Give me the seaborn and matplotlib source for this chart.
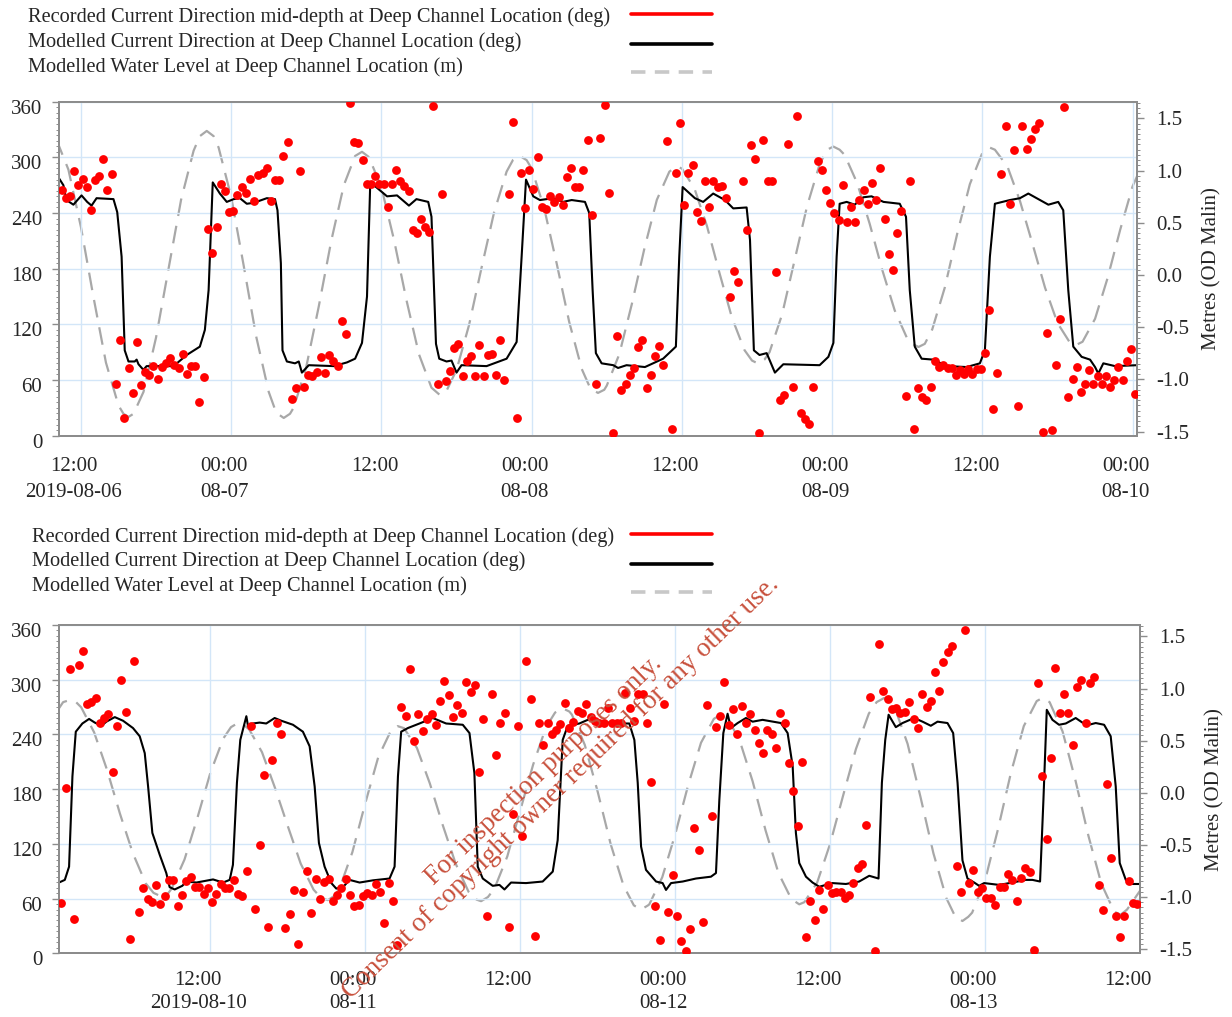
import numpy as np
import pandas as pd
import matplotlib
matplotlib.use("Agg")
import matplotlib.pyplot as plt
import matplotlib.dates as mdates
import matplotlib.transforms as mtransforms
from matplotlib.lines import Line2D
from matplotlib.ticker import MultipleLocator, FormatStrFormatter
import seaborn as sns

# ============================ DATA ============================
legend_labels = [
    "Recorded Current Direction mid-depth at Deep Channel Location (deg)",
    "Modelled Current Direction at Deep Channel Location (deg)",
    "Modelled Water Level at Deep Channel Location (m)",
]
right_label = "Metres (OD Malin)"
watermark = "For inspection purposes only.\nConsent of copyright owner required for any other use."

# ---------- Panel 1 (hours after 2019-08-06 00:00) ----------
p1_start = "2019-08-06 00:00"
p1_rec_h = [10.45, 10.77, 11.12, 11.44, 11.79, 12.13, 12.45, 12.77, 13.12, 13.47, 13.79, 14.11,
            14.45, 14.77, 15.12, 15.47, 15.81, 16.13, 16.45, 16.77, 17.15, 17.47, 17.79, 18.13,
            18.48, 18.8, 19.15, 19.47, 19.81, 20.13, 20.48, 20.8, 21.15, 21.47, 21.81, 22.16,
            22.48, 22.83, 23.15, 23.49, 23.81, 24.13, 24.48, 24.83, 25.17, 25.49, 25.84, 26.16,
            26.51, 26.83, 27.17, 27.49, 27.84, 28.16, 28.51, 28.83, 29.17, 29.49, 29.84, 30.16,
            30.48, 30.83, 31.17, 31.52, 31.84, 32.16, 32.51, 32.83, 33.17, 33.49, 33.84, 34.16,
            34.51, 34.85, 35.17, 35.52, 35.84, 36.19, 36.51, 36.85, 37.2, 37.52, 37.84, 38.19,
            38.5, 38.83, 39.13, 39.48, 39.82, 40.14, 40.49, 40.81, 41.15, 41.47, 41.82, 42.14,
            42.49, 42.8, 43.12, 43.47, 43.82, 44.19, 44.48, 44.8, 45.15, 45.47, 45.81, 46.16,
            46.48, 46.8, 47.14, 47.46, 47.81, 48.13, 48.48, 48.8, 49.11, 49.46, 49.81, 50.15,
            50.47, 50.82, 51.14, 51.46, 51.8, 52.12, 52.47, 52.82, 53.16, 53.48, 53.83, 54.17,
            54.49, 54.84, 55.16, 55.5, 55.85, 56.17, 56.49, 56.84, 57.18, 57.5, 57.85, 58.17,
            58.51, 58.83, 59.18, 59.52, 59.84, 60.19, 60.51, 60.86, 61.18, 61.52, 61.84, 62.19,
            62.51, 62.85, 63.17, 63.52, 63.84, 64.18, 64.5, 64.85, 65.17, 65.52, 65.83, 66.18,
            66.5, 66.85, 67.17, 67.51, 67.83, 68.18, 68.5, 68.84, 69.16, 69.51, 69.83, 70.17,
            70.49, 70.84, 71.16, 71.51, 71.83, 72.17, 72.52, 72.84, 73.18, 73.5, 73.85, 74.17,
            74.52, 74.86, 75.18, 75.53, 75.85, 76.19, 76.51, 76.86, 77.2, 77.52, 77.87, 78.19,
            78.54, 78.88, 79.2, 79.52, 79.87, 80.21, 80.53, 80.88, 81.22, 81.54, 81.86, 82.21,
            82.53, 82.87, 83.19, 83.54, 83.86, 84.21, 84.53, 84.87, 85.19, 85.51, 85.86, 86.2,
            86.52, 86.87, 87.19, 87.53, 87.85, 88.2, 88.52, 88.87, 89.19, 89.53, 89.88, 90.2,
            90.54, 90.86, 91.21, 91.53, 91.87, 92.19, 92.54, 92.86, 93.2, 93.52, 93.87, 94.19,
            94.51, 94.86, 95.2, 95.52, 95.87, 96.19]
p1_rec_deg = [265, 256, 258, 285, 270, 277, 268, 243, 276, 280, 298, 265,
              282, 56, 103, 19, 73, 46, 101, 55, 69, 65, 75, 61,
              74, 78, 84, 76, 73, 88, 67, 75, 75, 36, 63, 223,
              197, 225, 271, 264, 241, 242, 259, 268, 262, 277, 253, 281,
              283, 288, 253, 276, 276, 301, 317, 40, 51, 285, 53, 65,
              64, 69, 85, 68, 87, 81, 75, 124, 110, 359, 317, 315,
              297, 271, 271, 280, 271, 271, 247, 271, 286, 274, 269, 264,
              222, 218, 234, 225, 220, 355, 56, 261, 59, 70, 94, 99,
              64, 81, 86, 64, 98, 64, 87, 88, 65, 103, 60, 260,
              338, 19, 283, 245, 286, 266, 300, 246, 244, 258, 252, 257,
              249, 279, 289, 268, 268, 286, 319, 238, 56, 321, 356, 262,
              3, 107, 49, 56, 65, 73, 96, 103, 51, 65, 86, 97,
              76, 318, 7, 283, 337, 249, 283, 292, 241, 231, 274, 246,
              275, 268, 269, 256, 149, 177, 166, 275, 222, 313, 298, 3,
              319, 275, 274, 176, 38, 44, 314, 53, 345, 24, 18, 13,
              53, 296, 286, 265, 251, 240, 232, 270, 230, 247, 230, 254,
              265, 250, 272, 254, 288, 234, 196, 179, 219, 242, 43, 275,
              7, 51, 42, 39, 53, 80, 74, 76, 73, 73, 65, 71,
              67, 72, 67, 72, 72, 89, 136, 29, 68, 282, 334, 250,
              308, 32, 334, 309, 320, 331, 337, 4, 111, 6, 76, 126,
              354, 42, 61, 74, 47, 56, 71, 56, 64, 56, 64, 53,
              60, 74, 60, 81, 93, 45]
p1_mod_h = [10.27, 10.6, 10.85, 11.4, 12.05, 12.5, 12.85, 13.25, 14.6, 14.9, 15.25, 15.5,
            15.8, 16.3, 16.45, 16.6, 16.99, 17.25, 19.4, 20.45, 21.5, 21.9, 22.2, 22.53,
            23.1, 23.65, 24.2, 24.7, 25.25, 25.8, 26.85, 27.5, 27.7, 27.97, 28.1, 28.45,
            29.1, 29.4, 29.65, 30.2, 32.2, 33.25, 33.9, 34.45, 34.85, 35.1, 35.4, 36.45,
            37.25, 38.2, 38.8, 39.74, 40.0, 40.14, 40.36, 40.62, 41.2, 41.6, 42.0, 42.4,
            44.4, 46.0, 46.8, 47.2, 47.55, 48.13, 48.66, 49.73, 50.5, 51.2, 52.26, 52.6,
            52.87, 53.13, 53.59, 54.52, 54.9, 55.58, 57.05, 58.5, 59.52, 59.79, 60.06, 61.04,
            61.7, 62.5, 63.44, 64.1, 65.17, 65.44, 65.75, 66.2, 66.77, 67.43, 68.1, 71.0,
            71.7, 72.1, 72.36, 72.6, 73.16, 73.8, 74.5, 75.15, 76.1, 77.4, 77.9, 78.2,
            78.6, 79.15, 80.08, 81.15, 82.74, 83.8, 84.2, 84.6, 85.0, 86.2, 87.0, 87.67,
            88.6, 89.27, 90.06, 90.46, 90.86, 91.26, 91.93, 92.6, 93.0, 93.26, 93.66, 94.6,
            96.35]
p1_mod_deg = [277, 270, 254, 249, 259, 252, 248, 256, 255, 241, 193, 92,
              80, 80, 82, 77, 71, 75, 75, 87, 96, 114, 157, 273,
              261, 252, 255, 256, 250, 251, 256, 255, 243, 186, 92, 80,
              78, 80, 68, 76, 75, 79, 83, 100, 150, 268, 270, 258,
              259, 248, 255, 252, 236, 182, 99, 83, 80, 81, 68, 76,
              75, 83, 101, 193, 276, 258, 254, 256, 252, 254, 252, 240,
              157, 89, 78, 76, 73, 76, 74, 83, 96, 193, 268, 256,
              252, 261, 254, 245, 246, 211, 92, 87, 89, 68, 77, 76,
              85, 100, 193, 250, 252, 249, 257, 258, 252, 250, 236, 157,
              96, 83, 82, 75, 74, 78, 92, 193, 250, 254, 256, 261,
              254, 249, 252, 243, 157, 96, 85, 82, 74, 67, 78, 75,
              76]
p1_wl_h = [10, 11, 12, 13, 14, 15, 15.4, 15.8, 16.2, 17, 18, 19,
           20, 21, 21.5, 22.05, 22.6, 23, 24, 25, 26, 27, 27.6, 28.2,
           28.7, 29, 30, 31, 32, 33, 33.9, 34.45, 35, 36, 37, 38,
           39, 40, 40.67, 41.2, 42, 43, 44, 45, 46, 46.5, 47.06, 47.6,
           48, 49, 50, 51, 52, 52.7, 53.3, 53.8, 54, 55, 56, 57,
           58, 59, 59.58, 60, 61, 62, 63, 64, 65, 65.6, 66.1, 66.6,
           67, 68, 69, 70, 71, 71.6, 72.1, 72.6, 73, 74, 75, 76,
           77, 78, 78.4, 78.9, 79.4, 80, 81, 82, 83, 84, 84.6, 85,
           86, 87, 88, 89, 90, 91, 91.5, 92, 93, 94, 95, 96,
           97]
p1_wl_m = [1.31, 1.01, 0.46, -0.21, -0.84, -1.25, -1.33, -1.36, -1.33, -1.12, -0.60, 0.06,
           0.72, 1.19, 1.33, 1.38, 1.33, 1.22, 0.75, 0.09, -0.59, -1.12, -1.32, -1.37,
           -1.33, -1.27, -0.88, -0.30, 0.33, 0.86, 1.14, 1.18, 1.13, 0.84, 0.34, -0.24,
           -0.76, -1.08, -1.15, -1.11, -0.91, -0.48, 0.07, 0.60, 0.99, 1.10, 1.14, 1.10,
           1.02, 0.64, 0.11, -0.45, -0.90, -1.09, -1.13, -1.10, -1.06, -0.76, -0.28, 0.25,
           0.72, 0.99, 1.04, 1.02, 0.83, 0.47, 0.02, -0.41, -0.72, -0.82, -0.85, -0.81,
           -0.74, -0.38, 0.14, 0.66, 1.06, 1.20, 1.23, 1.20, 1.15, 0.88, 0.49, 0.05,
           -0.34, -0.61, -0.66, -0.69, -0.66, -0.52, -0.12, 0.40, 0.87, 1.17, 1.22, 1.20,
           1.04, 0.71, 0.30, -0.12, -0.46, -0.65, -0.67, -0.64, -0.42, -0.03, 0.43, 0.85,
           1.12]
p1_xlim_h = (10.25, 96.35)
p1_wl_ylim = (-1.54, 1.66)
p1_tick_h = [12, 24, 36, 48, 60, 72, 84, 96]
p1_tick_labels = ["12:00\n2019-08-06", "00:00\n08-07", "12:00", "00:00\n08-08",
                  "12:00", "00:00\n08-09", "12:00", "00:00\n08-10"]

# ---------- Panel 2 (hours after 2019-08-10 00:00) ----------
p2_start = "2019-08-10 00:00"
p2_rec_h = [0.42, 0.8, 1.11, 1.47, 1.81, 2.14, 2.45, 2.79, 3.12, 3.46, 3.77, 4.11,
            4.44, 4.78, 5.11, 5.45, 5.78, 6.12, 6.48, 6.81, 7.15, 7.49, 7.82, 8.13,
            8.47, 8.8, 9.14, 9.47, 9.81, 10.14, 10.48, 10.81, 11.15, 11.48, 11.82, 12.13,
            12.46, 12.8, 13.14, 13.47, 13.81, 14.14, 14.48, 14.81, 15.15, 15.48, 15.82, 16.15,
            16.49, 16.8, 17.13, 17.47, 17.8, 18.14, 18.47, 18.81, 19.15, 19.48, 19.82, 20.15,
            20.49, 20.82, 21.16, 21.49, 21.8, 22.14, 22.47, 22.81, 23.15, 23.48, 23.82, 24.15,
            24.49, 24.82, 25.13, 25.47, 25.8, 26.14, 26.45, 26.78, 27.12, 27.45, 27.76, 28.1,
            28.46, 28.79, 29.13, 29.46, 29.8, 30.13, 30.47, 30.8, 31.14, 31.47, 31.81, 32.15,
            32.48, 32.79, 33.13, 33.46, 33.8, 34.13, 34.47, 34.8, 35.14, 35.47, 35.81, 36.14,
            36.48, 36.82, 37.12, 37.46, 37.8, 38.13, 38.47, 38.78, 39.11, 39.45, 39.78, 40.12,
            40.45, 40.79, 41.12, 41.46, 41.79, 42.13, 42.47, 42.8, 43.14, 43.47, 43.81, 44.14,
            44.48, 44.81, 45.15, 45.48, 45.79, 46.13, 46.46, 46.8, 47.13, 47.47, 47.81, 48.14,
            48.48, 48.81, 49.15, 49.48, 49.82, 50.15, 50.49, 50.82, 51.16, 51.47, 51.8, 52.14,
            52.48, 52.81, 53.15, 53.48, 53.82, 54.15, 54.49, 54.82, 55.13, 55.47, 55.8, 56.14,
            56.48, 56.81, 57.15, 57.48, 57.79, 58.13, 58.46, 58.8, 59.11, 59.42, 59.8, 60.14,
            60.47, 60.81, 61.14, 61.45, 61.79, 62.13, 62.46, 62.77, 63.11, 63.44, 63.78, 64.11,
            64.45, 64.78, 65.12, 65.45, 65.79, 66.12, 66.46, 66.8, 67.13, 67.47, 67.8, 68.14,
            68.45, 68.78, 69.12, 69.45, 69.79, 70.12, 70.43, 70.77, 71.1, 71.44, 71.77, 72.11,
            72.45, 72.78, 73.12, 73.45, 73.79, 74.12, 74.46, 74.79, 75.13, 75.46, 75.8, 76.11,
            76.44, 76.78, 77.11, 77.45, 77.79, 78.12, 78.46, 78.79, 79.13, 79.46, 79.8, 80.13,
            80.47, 80.8, 81.11, 81.45, 81.78, 82.12, 82.45, 82.79, 83.13, 83.46, 83.8]
p2_rec_deg = [55, 181, 312, 38, 316, 332, 273, 276, 280, 253, 258, 262,
              199, 249, 300, 265, 16, 321, 45, 72, 60, 56, 75, 54,
              63, 80, 80, 52, 64, 79, 84, 73, 73, 65, 72, 56,
              65, 76, 72, 72, 80, 65, 63, 90, 249, 49, 119, 196,
              29, 212, 253, 241, 28, 43, 69, 10, 67, 90, 44, 81,
              60, 78, 81, 57, 64, 72, 81, 64, 52, 53, 63, 66,
              64, 76, 67, 33, 77, 57, 9, 270, 260, 312, 233, 262,
              244, 257, 262, 250, 277, 299, 283, 259, 272, 264, 297, 287,
              294, 199, 257, 41, 284, 217, 252, 263, 29, 153, 249, 129,
              321, 279, 19, 253, 228, 252, 240, 245, 251, 275, 247, 254,
              266, 263, 273, 259, 255, 253, 253, 269, 253, 253, 253, 285,
              269, 255, 284, 284, 253, 188, 52, 15, 273, 45, 86, 41,
              13, 3, 27, 137, 113, 34, 272, 151, 248, 260, 297, 250,
              268, 240, 271, 253, 262, 245, 231, 220, 245, 241, 225, 263,
              253, 209, 178, 140, 210, 18, 57, 36, 69, 49, 75, 66,
              67, 67, 61, 64, 77, 94, 98, 141, 281, 2, 339, 288,
              279, 268, 269, 263, 265, 276, 257, 247, 284, 270, 277, 309,
              288, 319, 330, 337, 96, 67, 354, 77, 91, 67, 72, 61,
              61, 53, 73, 73, 87, 80, 57, 83, 94, 89, 4, 296,
              194, 125, 214, 313, 264, 284, 264, 228, 292, 300, 253, 296,
              303, 75, 48, 186, 105, 41, 18, 41, 79, 55, 54]
p2_mod_h = [0.28, 0.73, 1.06, 1.32, 1.58, 2.09, 2.61, 3.05, 3.56, 3.95, 4.6, 5.24,
            6.01, 6.53, 6.92, 7.18, 7.51, 8.08, 8.59, 8.85, 9.24, 9.83, 10.14, 10.92,
            12.21, 12.98, 13.5, 13.75, 14.06, 14.32, 14.79, 14.92, 15.3, 15.82, 16.33, 16.98,
            17.5, 18.4, 19.17, 19.69, 20.08, 20.41, 20.85, 21.37, 21.75, 22.27, 22.78, 23.56,
            24.59, 25.88, 26.27, 26.53, 26.78, 27.3, 28.2, 28.71, 29.23, 30.26, 31.55, 32.07,
            32.45, 32.71, 33.1, 33.87, 34.39, 34.78, 35.29, 36.45, 37.74, 38.52, 38.9, 39.29,
            39.68, 40.58, 41.23, 42.13, 43.16, 44.45, 44.84, 45.1, 45.36, 45.74, 46.52, 47.03,
            47.29, 47.68, 48.58, 49.61, 50.77, 51.16, 51.42, 51.73, 52.06, 52.32, 52.84, 53.48,
            54.0, 54.77, 56.19, 56.71, 57.1, 57.35, 57.61, 58.13, 58.64, 59.16, 59.67, 60.19,
            61.22, 62.25, 63.03, 63.75, 64.01, 64.27, 64.53, 65.09, 65.61, 66.51, 67.16, 67.8,
            68.32, 69.09, 69.53, 69.87, 70.25, 70.64, 71.16, 71.54, 71.93, 73.09, 74.12, 75.15,
            75.67, 76.26, 76.52, 76.78, 77.22, 77.73, 78.25, 79.02, 79.54, 80.05, 80.57, 81.22,
            81.73, 82.12, 82.43, 82.9, 83.41, 84.0]
p2_mod_deg = [77.6, 80.5, 95, 194, 243, 252, 257, 253, 249.5, 254, 259, 255,
              247, 238, 219.5, 183, 132, 108, 88, 72.5, 70, 74, 78.7, 77.6,
              81, 77.6, 80.5, 97, 187, 234, 260, 249, 252, 253, 252, 258,
              255, 250.6, 243, 227, 183, 121, 95, 77, 71, 72.5, 80.5, 77.6,
              80, 82, 95, 194, 243, 247, 252, 255, 258, 252, 250.6, 241.5,
              197.6, 95, 82, 74, 75, 70, 77.6, 77, 78.7, 89.6, 124, 234,
              249.5, 252, 256, 255, 252, 252, 234, 187, 117, 91.5, 78.7, 77,
              69.5, 77, 78.7, 82, 84, 88, 168, 241.5, 262.7, 247, 252.5, 258,
              254, 256, 252.5, 241.5, 205, 132, 99, 84, 77.6, 73, 75, 77,
              76, 78.7, 85, 82, 187, 234, 261.6, 248, 252.5, 258, 254, 249.5,
              254, 252.5, 241.5, 187, 102, 82, 77.6, 74, 77, 75, 77.6, 80.5,
              80.5, 78.7, 168, 267, 256, 250.6, 252, 258, 253, 250.6, 252.5, 250.6,
              238, 183, 99, 80.5, 76, 76]
p2_wl_h = [0, 0.6, 1.11, 1.6, 2, 3, 4, 5, 6, 7, 7.6, 8.2,
           8.7, 9, 10, 11, 12, 13, 13.6, 14.14, 14.6, 15, 16, 17,
           18, 19, 20, 20.6, 21.1, 21.6, 22, 23, 24, 25, 26, 26.5,
           27, 28, 29, 30, 31, 32, 32.5, 32.97, 33.5, 34, 35, 36,
           37, 38, 38.7, 39.29, 39.8, 40, 41, 42, 43, 44, 44.8, 45.36,
           45.9, 46, 47, 48, 49, 50, 51, 51.55, 52, 53, 54, 55,
           56, 57, 57.61, 58, 59, 60, 61, 62, 63, 63.6, 64.19, 64.7,
           65, 66, 67, 68, 69, 69.7, 70.25, 70.7, 71, 72, 73, 74,
           75, 76, 76.44, 77, 78, 79, 80, 81, 82, 82.5, 83, 84]
p2_wl_m = [0.76, 0.87, 0.89, 0.87, 0.82, 0.58, 0.22, -0.20, -0.58, -0.87, -0.96, -0.995,
           -0.97, -0.92, -0.64, -0.24, 0.19, 0.52, 0.63, 0.67, 0.65, 0.61, 0.39, 0.05,
           -0.32, -0.68, -0.93, -1.01, -1.03, -0.99, -0.92, -0.57, -0.10, 0.34, 0.60, 0.64,
           0.62, 0.43, 0.09, -0.31, -0.68, -0.95, -1.02, -1.04, -1.00, -0.92, -0.61, -0.17,
           0.27, 0.63, 0.77, 0.81, 0.78, 0.75, 0.46, 0.01, -0.49, -0.89, -1.08, -1.12,
           -1.08, -1.07, -0.81, -0.40, 0.07, 0.48, 0.71, 0.75, 0.73, 0.50, 0.11, -0.36,
           -0.77, -1.02, -1.07, -1.05, -0.86, -0.49, -0.03, 0.42, 0.76, 0.87, 0.91, 0.87,
           0.82, 0.47, -0.04, -0.58, -1.01, -1.19, -1.23, -1.19, -1.15, -0.84, -0.35, 0.19,
           0.64, 0.88, 0.91, 0.87, 0.59, 0.12, -0.41, -0.87, -1.14, -1.17, -1.12, -0.94]
p2_xlim_h = (0.28, 84.0)
p2_wl_ylim = (-1.54, 1.61)
p2_tick_h = [12, 24, 36, 48, 60, 72, 84]
p2_tick_labels = ["12:00\n2019-08-10", "00:00\n08-11", "12:00", "00:00\n08-12",
                  "12:00", "00:00\n08-13", "12:00"]

deg_ticks = [0, 60, 120, 180, 240, 300, 360]
wl_ticks = [-1.5, -1.0, -0.5, 0.0, 0.5, 1.0, 1.5]

# ============================ STYLE ============================
sns.set_style("white")
plt.rcParams["font.family"] = ["Liberation Serif", "DejaVu Serif"]
plt.rcParams["axes.unicode_minus"] = False

RED = "#ff0000"
WL_GREY = "#a8a8a8"
SPINE = "#8c8c8c"
GRID = "#d3e6f8"
W, H = 1232, 1017
DPI = 100

fig = plt.figure(figsize=(W / DPI, H / DPI), dpi=DPI)


def fx(px):
    return px / W


def fy(py):
    return 1 - py / H


def to_time(start, hours):
    return pd.Timestamp(start) + pd.to_timedelta(np.asarray(hours, dtype=float), unit="h")


def draw_panel(rect, start, rec_h, rec_deg, mod_h, mod_deg, wl_h, wl_m,
               xlim_h, tick_h, tick_labels, wl_ylim, xlab_dx, xpad, xls):
    ax = fig.add_axes(rect)
    ax2 = ax.twinx()
    sns.lineplot(x=to_time(start, wl_h), y=wl_m, ax=ax2, color=WL_GREY, linewidth=1.6)
    for ln in ax2.lines:
        ln.set_linestyle((0, (8, 4.5)))
    sns.lineplot(x=to_time(start, mod_h), y=mod_deg, ax=ax, color="black", linewidth=1.5)
    sns.scatterplot(x=to_time(start, rec_h), y=rec_deg, ax=ax, color=RED, s=40,
                    linewidth=0, zorder=4)
    ax.set_zorder(ax2.get_zorder() + 1)
    ax.patch.set_visible(False)

    ax.set_xlim(to_time(start, [xlim_h[0]])[0], to_time(start, [xlim_h[1]])[0])
    ax.set_ylim(0, 360)
    ax2.set_ylim(*wl_ylim)
    ax.set_xlabel("")
    ax.set_ylabel("")

    ax.set_xticks(to_time(start, tick_h))
    ax.set_xticklabels(tick_labels)
    ax.xaxis.set_minor_locator(mdates.HourLocator())
    ax.set_yticks(deg_ticks)
    ax.yaxis.set_minor_locator(MultipleLocator(6))
    ax2.set_yticks(wl_ticks)
    ax2.yaxis.set_major_formatter(FormatStrFormatter("%.1f"))
    ax2.yaxis.set_minor_locator(MultipleLocator(0.05))

    ax.grid(True, which="major", color=GRID, linewidth=1.0)
    ax2.grid(False)
    for a in (ax, ax2):
        for s in a.spines.values():
            s.set_color(SPINE)
            s.set_linewidth(1.4)
            s.set_visible(True)

    ax.tick_params(axis="x", which="major", direction="out", length=6, width=1,
                   color=SPINE, labelsize=15, pad=xpad)
    ax.tick_params(axis="x", which="minor", direction="out", length=4, width=0.8,
                   color=SPINE)
    ax.tick_params(axis="y", which="major", direction="out", length=5, width=1,
                   color=SPINE, labelsize=15, pad=7)
    ax.tick_params(axis="y", which="minor", direction="out", length=2.5, width=0.7,
                   color=SPINE)
    ax2.tick_params(axis="y", which="major", direction="out", length=5, width=1,
                    color=SPINE, labelsize=15, pad=9)
    ax2.tick_params(axis="y", which="minor", direction="out", length=2.5, width=0.7,
                    color=SPINE)
    ax2.set_ylabel(right_label, fontsize=15, labelpad=9)

    off_x = mtransforms.ScaledTranslation(xlab_dx / DPI, 0, fig.dpi_scale_trans)
    for lab in ax.get_xticklabels():
        lab.set_linespacing(xls)
        lab.set_transform(lab.get_transform() + off_x)
    off_y = mtransforms.ScaledTranslation(0, -5 / DPI, fig.dpi_scale_trans)
    for lab in ax.get_yticklabels():
        lab.set_transform(lab.get_transform() + off_y)
    return ax, ax2


def draw_legend(text_x, text_ys, handle_ys):
    styles = [dict(color=RED, linewidth=2.6, linestyle="-"),
              dict(color="black", linewidth=2.6, linestyle="-"),
              dict(color="#c8c8c8", linewidth=2.6, linestyle=(0, (4, 2.6)))]
    for lab, ty, hy, st in zip(legend_labels, text_ys, handle_ys, styles):
        fig.text(fx(text_x), fy(ty), lab, fontsize=14.7, ha="left", va="center")
        fig.add_artist(Line2D([fx(631), fx(712)], [fy(hy), fy(hy)],
                              transform=fig.transFigure, **st))


# top panel
draw_panel([fx(59), fy(435.7), fx(1137) - fx(59), (435.7 - 101.7) / H],
           p1_start, p1_rec_h, p1_rec_deg, p1_mod_h, p1_mod_deg, p1_wl_h, p1_wl_m,
           p1_xlim_h, p1_tick_h, p1_tick_labels, p1_wl_ylim, -7, 9.5, 1.48)
draw_legend(28, [17, 42, 67], [14, 44, 72])

# bottom panel
draw_panel([fx(59), fy(953.3), fx(1140) - fx(59), (953.3 - 625) / H],
           p2_start, p2_rec_h, p2_rec_deg, p2_mod_h, p2_mod_deg, p2_wl_h, p2_wl_m,
           p2_xlim_h, p2_tick_h, p2_tick_labels, p2_wl_ylim, -12, 6.5, 1.3)
draw_legend(32, [537, 561, 586], [534, 564, 592])

# watermark
fig.text(fx(552), fy(779), watermark, rotation=44, rotation_mode="anchor",
         ha="center", va="center", multialignment="center", fontsize=19.5,
         color="#c8503c", linespacing=1.0, zorder=10)

fig.savefig("out.png", dpi=DPI)
